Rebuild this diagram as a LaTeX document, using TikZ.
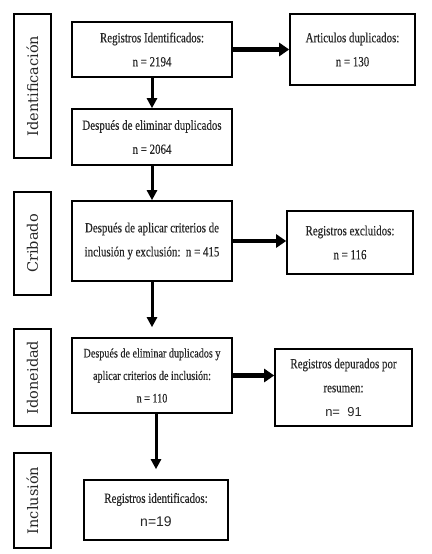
\documentclass[tikz,border=0pt]{standalone}
\usepackage{fontspec}
\setmainfont{Liberation Serif}
\newfontfamily\boxfont[FakeStretch=0.78,FakeBold=0.4]{Liberation Serif}
\newfontfamily\sidefont{DejaVu Serif}
\newfontfamily\numfont{Liberation Sans}
\usetikzlibrary{arrows.meta}
\begin{document}
\begin{tikzpicture}[x=1pt,y=-1pt,
  box/.style={draw=black, line width=1.6pt, align=center, inner sep=0pt,
    text=black!85, font=\boxfont\fontsize{14}{24}\selectfont},
  side/.style={draw=black, line width=1.6pt, minimum width=37pt, inner sep=0pt},
  sidetext/.style={rotate=90, text=black!85, font=\sidefont\fontsize{14.5}{16}\selectfont},
  arrv/.style={line width=3pt, -{Triangle[length=10pt,width=10pt]}},
  arrh/.style={line width=4.5pt, -{Triangle[length=10pt,width=13pt]}}
]
\useasboundingbox (0,0) rectangle (431,554);
% side phase boxes
\node[side, minimum height=144pt] (sid1) at (32.5,86) {};
\node[sidetext] (sid1t) at (sid1.center) {Identificación};
\node[side, minimum height=103pt] (sid2) at (32.5,243.5) {};
\node[sidetext] (sid2t) at (sid2.center) {Cribado};
\node[side, minimum height=97pt] (sid3) at (32.5,377.5) {};
\node[sidetext] (sid3t) at (sid3.center) {Idoneidad};
\node[side, minimum height=95pt] (sid4) at (32.5,500.5) {};
\node[sidetext] (sid4t) at (sid4.center) {Inclusión};
% main boxes
\node[box, minimum width=160pt, minimum height=55pt] (b1) at (152,49.5)
  {Registros Identificados:\\n = 2194};
\node[box, minimum width=125pt, minimum height=71pt] (art) at (352.5,49.5)
  {Articulos duplicados:\\n = 130};
\node[box, minimum width=160pt, minimum height=56pt] (b2) at (152,137)
  {Después de eliminar duplicados\\n = 2064};
\node[box, minimum width=160pt, minimum height=80pt] (b3) at (152,241)
  {Después de aplicar criterios de\\inclusión y exclusión:\ \ n = 415};
\node[box, minimum width=126pt, minimum height=63pt] (exc) at (350,242.5)
  {Registros excluidos:\\n = 116};
\node[box, minimum width=160pt, minimum height=75pt, font=\boxfont\fontsize{13}{22.5}\selectfont] (b4) at (152,375.5)
  {Después de eliminar duplicados y\\aplicar criterios de inclusión:\\n = 110};
\node[box, minimum width=137pt, minimum height=77pt] (dep) at (343.5,387.5)
  {Registros depurados por\\resumen:\\{\numfont\fontsize{13}{24}\selectfont n=\ \ 91}};
\node[box, minimum width=144pt, minimum height=60pt] (b5) at (156,510)
  {Registros identificados:\\{\numfont\fontsize{14}{24}\selectfont n=19}};
% arrows
\draw[arrh] (b1.east) -- (art.west);
\draw[arrv] (b1.south) -- (b2.north);
\draw[arrv] (b2.south) -- (b3.north);
\draw[arrh] (b3.east) -- (b3.east -| exc.west);
\draw[arrv, shorten >=10pt] (b3.south) -- (b4.north);
\draw[arrh] (b4.east) -- (b4.east -| dep.west);
\draw[arrv, shorten >=10pt] (b4.south -| b5.north) -- (b5.north);
\end{tikzpicture}
\end{document}
